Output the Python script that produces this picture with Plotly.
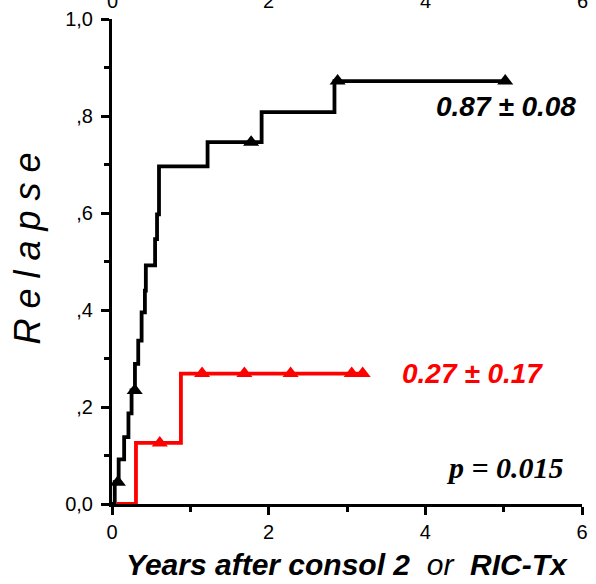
import plotly.graph_objects as go

# ---- data ----
black_t = [0.0, 0.035, 0.085, 0.155, 0.21, 0.25, 0.293, 0.335, 0.378, 0.42, 0.432, 0.55, 0.575, 0.60, 1.22, 1.91, 2.84, 5.02]
black_v = [0.0, 0.045, 0.092, 0.138, 0.187, 0.234, 0.289, 0.337, 0.395, 0.44, 0.492, 0.546, 0.597, 0.696, 0.746, 0.808, 0.872, 0.872]
black_cens_t = [0.075, 0.29, 1.776, 2.88, 5.02]
black_cens_v = [0.045, 0.234, 0.746, 0.872, 0.872]

red_t = [0.06, 0.306, 0.88, 3.24]
red_v = [0.0, 0.126, 0.269, 0.269]
red_cens_t = [0.61, 1.15, 1.69, 2.28, 3.06, 3.20]
red_cens_v = [0.126, 0.269, 0.269, 0.269, 0.269, 0.269]

x_ticks = [0, 2, 4, 6]
x_minor = [1, 3, 5]
y_ticks = [0.0, 0.2, 0.4, 0.6, 0.8, 1.0]
y_ticktext = ["0,0", ",2", ",4", ",6", ",8", "1,0"]
y_minor = [0.1, 0.3, 0.5, 0.7, 0.9]

black_label = "0.87 \u00b1 0.08"
red_label = "0.27 \u00b1 0.17"
p_label = "p = 0.015"

SANS = "Liberation Sans, Arial, sans-serif"
SERIF = "Liberation Serif, Times New Roman, serif"

fig = go.Figure()
fig.add_trace(go.Scatter(x=black_t, y=black_v, mode="lines", line=dict(color="black", width=3.8, shape="hv"),
                         cliponaxis=False, showlegend=False))
fig.add_trace(go.Scatter(x=red_t, y=red_v, mode="lines", line=dict(color="#ff0000", width=3.8, shape="hv"),
                         cliponaxis=False, showlegend=False))
fig.add_trace(go.Scatter(x=black_cens_t, y=black_cens_v, mode="markers",
                         marker=dict(symbol="triangle-up", size=14, color="black"), cliponaxis=False, showlegend=False))
fig.add_trace(go.Scatter(x=red_cens_t, y=red_cens_v, mode="markers",
                         marker=dict(symbol="triangle-up", size=14, color="#ff0000"), cliponaxis=False, showlegend=False))

axis_common = dict(showgrid=False, zeroline=False, showline=True, linecolor="black", linewidth=3,
                   ticks="outside", tickcolor="black", tickwidth=3, ticklen=8,
                   tickfont=dict(family=SANS, size=20, color="black"))

fig.update_xaxes(range=[0, 6], tickmode="array", tickvals=x_ticks, ticktext=[str(v) for v in x_ticks],
                 minor=dict(tickmode="array", tickvals=x_minor, ticks="outside", ticklen=5, tickwidth=3, tickcolor="black"),
                 **axis_common)
fig.update_yaxes(range=[0, 1], tickmode="array", tickvals=y_ticks, ticktext=y_ticktext, ticklabelstandoff=4,
                 minor=dict(tickmode="array", tickvals=y_minor, ticks="outside", ticklen=5, tickwidth=3, tickcolor="black"),
                 **axis_common)

ann = []
# cut-off tick labels of the chart above
for v in x_ticks:
    ann.append(dict(x=v, xref="x", y=1 + 18 / 487, yref="paper", text=str(v), showarrow=False,
                    yanchor="middle", font=dict(family=SANS, size=20, color="black")))
ann.append(dict(x=5.03, xref="x", y=0.82, yref="y", text="<b><i>" + black_label + "</i></b>", showarrow=False,
                font=dict(family=SANS, size=28, color="black")))
ann.append(dict(x=4.6, xref="x", y=0.269, yref="y", text="<b><i>" + red_label + "</i></b>", showarrow=False,
                font=dict(family=SANS, size=28, color="#ff0000")))
ann.append(dict(x=5.02, xref="x", y=0.076, yref="y", text="<b><i>" + p_label + "</i></b>", showarrow=False,
                font=dict(family=SERIF, size=30, color="black")))
ann.append(dict(x=(26 - 112) / 476, xref="paper", y=0.527, yref="paper", textangle=-90, xanchor="center",
                text="<i>R\u00a0e\u00a0l\u00a0a\u00a0p\u00a0s\u00a0e</i>", showarrow=False,
                font=dict(family=SANS, size=36, color="black")))
ann.append(dict(x=0.5, xref="paper", y=-0.125, yref="paper", yanchor="middle",
                text="<b><i>Years after consol 2</i></b>\u00a0\u00a0<i>or</i>\u00a0\u00a0<b><i>RIC-Tx</i></b>",
                showarrow=False, font=dict(family=SANS, size=30, color="black")))

fig.update_layout(width=596, height=584, margin=dict(l=112, r=8, t=17, b=80),
                  paper_bgcolor="white", plot_bgcolor="white", annotations=ann)

fig.write_html("out.html")
